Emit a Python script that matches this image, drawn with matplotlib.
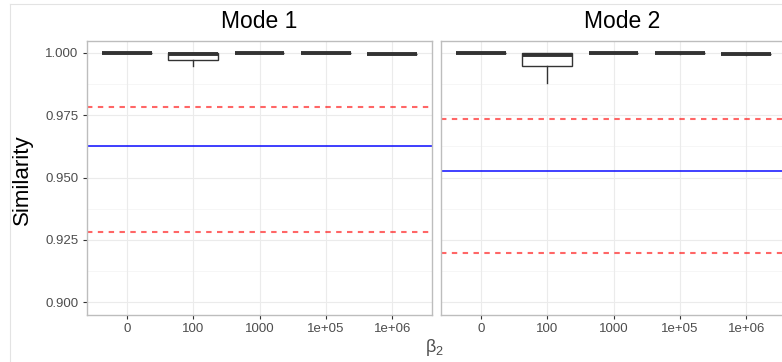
import matplotlib.pyplot as plt
from matplotlib.lines import Line2D

plt.rcParams["font.family"] = ["Liberation Sans", "DejaVu Sans"]
plt.rcParams["mathtext.default"] = "regular"

# --- Data ---
beta2_levels = ["0", "100", "1000", "1e+05", "1e+06"]
modes = ["Mode 1", "Mode 2"]

# box stats per mode (one entry per beta2 level)
q1 = {"Mode 1": [0.99995, 0.9973, 0.99992, 0.99988, 0.99950],
      "Mode 2": [0.99995, 0.9948, 0.99992, 0.99980, 0.99940]}
median = {"Mode 1": [0.99998, 0.9996, 0.99995, 0.99992, 0.99955],
          "Mode 2": [0.99998, 0.9990, 0.99995, 0.99985, 0.99945]}
q3 = {"Mode 1": [1.00000, 1.0000, 0.99998, 0.99995, 0.99960],
      "Mode 2": [1.00000, 0.9999, 0.99998, 0.99990, 0.99950]}
whislo = {"Mode 1": [0.99992, 0.9948, 0.99990, 0.99985, 0.99945],
          "Mode 2": [0.99992, 0.9878, 0.99990, 0.99975, 0.99935]}
whishi = {"Mode 1": [1.00000, 1.0000, 1.00000, 0.99998, 0.99965],
          "Mode 2": [1.00000, 1.0000, 1.00000, 0.99995, 0.99955]}

# reference mean and bounds per mode
ref_mean = {"Mode 1": 0.9627, "Mode 2": 0.9527}
ref_upper = {"Mode 1": 0.9783, "Mode 2": 0.9736}
ref_lower = {"Mode 1": 0.9282, "Mode 2": 0.9197}

y_ticks = [0.900, 0.925, 0.950, 0.975, 1.000]
y_minor = [0.9125, 0.9375, 0.9625, 0.9875]

W, H = 782, 362
fig = plt.figure(figsize=(W / 100, H / 100), dpi=100)

# faint outer frame
fig.add_artist(Line2D([10 / W, 1], [1 - 4 / H, 1 - 4 / H], color="#e3e3e3", lw=0.8))
fig.add_artist(Line2D([10 / W, 10 / W], [0, 1 - 4 / H], color="#e3e3e3", lw=0.8))

ax_bottom = 1 - 315 / H
ax_height = (315 - 41) / H
panel_left = [87 / W, 441 / W]
panel_width = 345 / W
title_x = [0.5, (622 - 441) / 345]

axes = []
for k, mode in enumerate(modes):
    ax = fig.add_axes([panel_left[k], ax_bottom, panel_width, ax_height])
    axes.append(ax)
    pos = list(range(1, len(beta2_levels) + 1))

    # grid
    for y in y_ticks:
        ax.axhline(y, color="#ebebeb", lw=0.8, zorder=0)
    for y in y_minor:
        ax.axhline(y, color="#f3f3f3", lw=0.5, zorder=0)
    for x in pos:
        ax.axvline(x, color="#ebebeb", lw=0.8, zorder=0)

    stats = []
    for i in range(len(beta2_levels)):
        stats.append(dict(q1=q1[mode][i], med=median[mode][i], q3=q3[mode][i],
                          whislo=whislo[mode][i], whishi=whishi[mode][i],
                          fliers=[]))
    ax.bxp(stats, positions=pos, widths=0.75, showcaps=False, patch_artist=True,
           boxprops=dict(facecolor="white", edgecolor="#333333", lw=1.0),
           medianprops=dict(color="#333333", lw=2.8, solid_capstyle="butt"),
           whiskerprops=dict(color="#333333", lw=1.0), manage_ticks=False,
           zorder=3)

    ax.axhline(ref_upper[mode], color="red", alpha=0.6, lw=1.5,
               ls=(0, (2.6, 2.6)), zorder=2)
    ax.axhline(ref_lower[mode], color="red", alpha=0.6, lw=1.5,
               ls=(0, (2.6, 2.6)), zorder=2)
    ax.axhline(ref_mean[mode], color="blue", alpha=0.75, lw=1.4, zorder=2)

    ax.set_xlim(0.4, 5.6)
    ax.set_ylim(0.8948, 1.0048)
    ax.set_xticks(pos)
    ax.set_xticklabels(beta2_levels)
    ax.set_yticks(y_ticks)
    if k == 0:
        ax.set_yticklabels([f"{v:.3f}" for v in y_ticks])
    else:
        ax.tick_params(axis="y", left=False, labelleft=False)
    ax.tick_params(colors="#333333", labelcolor="#4d4d4d", labelsize=9.5,
                   length=3, width=0.8, pad=3)
    for sp in ax.spines.values():
        sp.set_color("#bdbdbd")
        sp.set_linewidth(1.0)

    ax.text(title_x[k], 1.03, mode, transform=ax.transAxes, ha="center",
            va="bottom", fontsize=16.5, color="black")

fig.text(22 / W, 1 - 180 / H, "Similarity", rotation=90, ha="center",
         va="center", fontsize=16, color="black")
fig.text(434 / W, 1 - 348 / H, r"$\beta_2$", ha="center", va="center",
         fontsize=13, color="#4d4d4d")

fig.savefig("out.png", dpi=100, facecolor="white")
